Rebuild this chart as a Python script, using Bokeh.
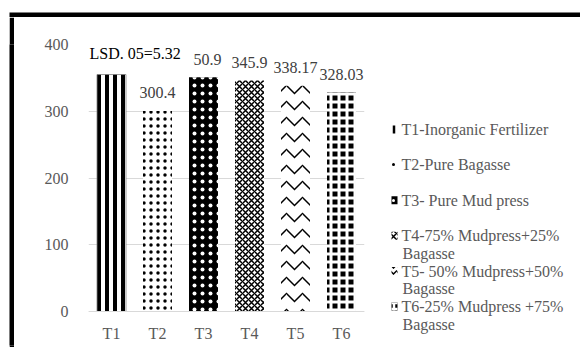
from bokeh.plotting import figure
from bokeh.models import Label, FactorRange, Range1d, Spacer, BoxAnnotation
from bokeh.layouts import row, column
from bokeh.core.properties import value
from bokeh.embed import file_html
from bokeh.resources import INLINE

categories = ["T1", "T2", "T3", "T4", "T5", "T6"]
yields = [355.0, 300.4, 350.9, 345.9, 338.17, 328.03]
value_labels = ["", "300.4", "350.9", "345.9", "338.17", "328.03"]
legend_first = ["T1-Inorganic Fertilizer", "T2-Pure Bagasse", "T3- Pure Mud press",
                "T4-75% Mudpress+25%", "T5- 50% Mudpress+50%", "T6-25% Mudpress +75%"]
legend_second = ["", "", "", "Bagasse", "Bagasse", "Bagasse"]
lsd_text = "LSD. 05=5.32"
y_ticks = [0, 100, 200, 300, 400]

FONT = "Liberation Serif"

fills = ["white", "white", "black", "white", "white", "black"]
hcolors = ["black", "black", "white", "black", "black", "white"]
hpats = ["vertical_line", "dot", "dot", "diagonal_cross", "horizontal_wave", "cross"]
hscales = [8, 7, 8, 6, 16, 8]
hweights = [4, 5, 2, 1.5, 1.5, 3]
lcolors = ["#7f7f7f", None, None, None, None, None]

W, H = 580, 347
BORDER_X, BORDER_Y, BW = 9, 12, 5          # thick black frame around the chart area
X0, Y0 = BORDER_X + BW, BORDER_Y + BW       # where the chart canvas starts (14, 17)
MAIN_RIGHT = 372
FRAME_LEFT, FRAME_TOP, ZERO_Y, FRAME_BOTTOM = 88, 44, 311, 345
units_per_px = 400 / (ZERO_Y - FRAME_TOP)
y_low = -(FRAME_BOTTOM - ZERO_Y) * units_per_px
CH = H - Y0


def black_box(w, h, left=0, top=0, border="white"):
    s = figure(width=w, height=h, toolbar_location=None, output_backend="svg",
               x_axis_location=None, y_axis_location=None, min_border_left=left,
               min_border_top=top, min_border_right=0, min_border_bottom=0)
    s.background_fill_color = "black"
    s.border_fill_color = border
    s.outline_line_color = None
    s.grid.visible = False
    return s


# ---------------- main chart ----------------
p = figure(x_range=FactorRange(*categories, range_padding=0), y_range=Range1d(y_low, 400),
           width=MAIN_RIGHT - X0, height=CH, output_backend="svg", toolbar_location=None,
           min_border_left=FRAME_LEFT - X0, min_border_right=8,
           min_border_top=FRAME_TOP - Y0, min_border_bottom=H - FRAME_BOTTOM)
p.border_fill_color = "white"
p.outline_line_color = None
p.background_fill_color = "white"

for i in range(6):
    p.vbar(x=[categories[i]], top=[yields[i]], width=0.63, fill_color=fills[i],
           hatch_pattern=hpats[i], hatch_color=hcolors[i], hatch_scale=hscales[i],
           hatch_weight=hweights[i], line_color=lcolors[i], line_width=0.8)

p.text(x=categories, y=yields, text=value_labels, text_align="center",
       text_baseline="alphabetic", y_offset=-18, text_font=value(FONT),
       text_font_size="16px", text_color="#404040")

# white box behind the LSD note (hides the start of the 400 gridline, as in the original)
p.add_layout(BoxAnnotation(left=0, right=2.28, bottom=368, top=410,
                           fill_color="white", fill_alpha=1, line_color=None))
lsd = Label(x=0.022, y=386, text=lsd_text, text_font=FONT, text_font_size="16px",
            text_color="black", text_baseline="alphabetic")
p.add_layout(lsd)

p.xgrid.grid_line_color = None
p.ygrid.grid_line_color = "#d9d9d9"
p.ygrid.grid_line_width = 1
p.yaxis.ticker = y_ticks
p.yaxis.axis_line_color = None
p.yaxis.major_tick_line_color = None
p.yaxis.minor_tick_line_color = None
p.yaxis.major_label_standoff = 14
p.xaxis.fixed_location = 0
p.xaxis.axis_line_color = "#d9d9d9"
p.xaxis.major_tick_line_color = None
p.xaxis.major_label_standoff = 7
for ax in (p.xaxis, p.yaxis):
    ax.major_label_text_font = FONT
    ax.major_label_text_font_size = "16px"
    ax.major_label_text_color = "#595959"

# ---------------- legend panel ----------------
q = figure(x_range=Range1d(MAIN_RIGHT, W), y_range=Range1d(FRAME_BOTTOM, FRAME_TOP),
           width=W - MAIN_RIGHT, height=CH, output_backend="svg", toolbar_location=None,
           x_axis_location=None, y_axis_location=None, min_border_left=0,
           min_border_right=0, min_border_top=FRAME_TOP - Y0,
           min_border_bottom=H - FRAME_BOTTOM)
q.border_fill_color = "white"
q.background_fill_color = "white"
q.outline_line_color = None
q.grid.grid_line_color = None

item_y0, pitch = 129.0, 35.4
for i in range(6):
    yc = item_y0 + pitch * i
    q.quad(left=[391], right=[397], top=[yc - 4], bottom=[yc + 4], fill_color=fills[i],
           hatch_pattern=hpats[i], hatch_color=hcolors[i], hatch_scale=min(hscales[i], 6),
           hatch_weight=min(hweights[i], 2.5), line_color=None)
    q.text(x=[401], y=[yc], text=[legend_first[i]], text_baseline="middle",
           text_font=value(FONT), text_font_size="16px", text_color="#595959")
    if legend_second[i]:
        q.text(x=[402], y=[yc + 17.5], text=[legend_second[i]], text_baseline="middle",
               text_font=value(FONT), text_font_size="16px", text_color="#595959")

layout = column(
    black_box(W, Y0, left=BORDER_X, top=BORDER_Y),
    row(Spacer(width=BORDER_X, height=CH), black_box(BW, CH, border="black"), p, q, spacing=0),
    spacing=0,
)
open("out.html", "w").write(file_html(layout, INLINE))
